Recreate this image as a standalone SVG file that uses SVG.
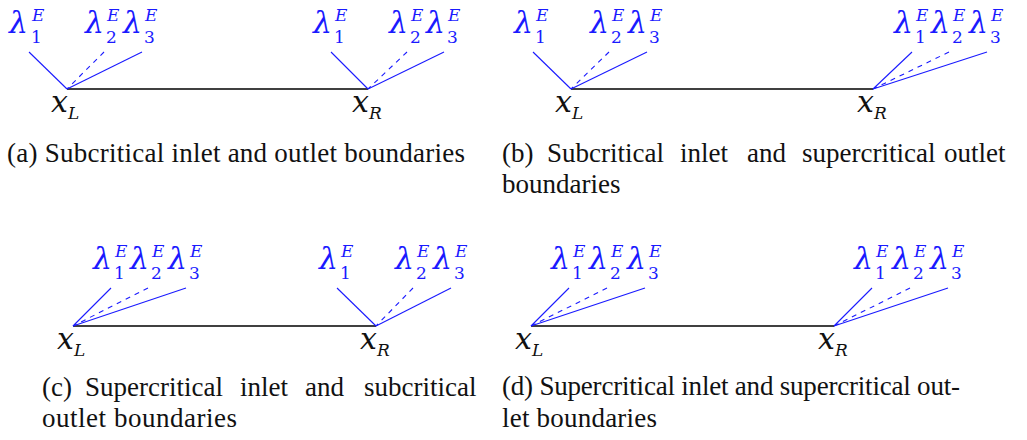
<svg xmlns="http://www.w3.org/2000/svg" width="1027" height="440" viewBox="0 0 1027 440">
<style>
.bg{fill:#fff}
.axis{stroke:#000;stroke-width:1.3;fill:none}
.ch{stroke:#1a1aff;stroke-width:1.1;fill:none}
.dash{stroke-dasharray:5 5}
.m{font-family:"DejaVu Serif",serif;font-style:italic;font-size:30px}
.lab{fill:#1a1aff}
.nd{fill:#111}
.sc{font-size:17px}
.up{font-style:normal}
.cap{font-family:"Liberation Serif",serif;font-size:27px;fill:#111}
</style>
<rect class="bg" x="0" y="0" width="1027" height="440"/>
<g id="connectors">
<line class="axis" x1="67" y1="89" x2="368" y2="89"/>
<line class="ch" x1="29" y1="52" x2="67" y2="89"/>
<line class="ch dash" x1="104" y1="52" x2="67" y2="89"/>
<line class="ch" x1="142" y1="52" x2="67" y2="89"/>
<line class="ch" x1="331" y1="52" x2="368" y2="89"/>
<line class="ch dash" x1="407" y1="52" x2="368" y2="89"/>
<line class="ch" x1="444" y1="52" x2="368" y2="89"/>
<line class="axis" x1="571" y1="89" x2="873" y2="89"/>
<line class="ch" x1="533" y1="52" x2="571" y2="89"/>
<line class="ch dash" x1="609" y1="52" x2="571" y2="89"/>
<line class="ch" x1="647" y1="52" x2="571" y2="89"/>
<line class="ch" x1="912" y1="52" x2="873" y2="89"/>
<line class="ch dash" x1="949" y1="52" x2="873" y2="89"/>
<line class="ch" x1="987" y1="52" x2="873" y2="89"/>
<line class="axis" x1="73" y1="326" x2="376" y2="326"/>
<line class="ch" x1="111" y1="288" x2="73" y2="326"/>
<line class="ch dash" x1="148" y1="288" x2="73" y2="326"/>
<line class="ch" x1="186" y1="288" x2="73" y2="326"/>
<line class="ch" x1="337" y1="288" x2="376" y2="326"/>
<line class="ch dash" x1="413" y1="288" x2="376" y2="326"/>
<line class="ch" x1="451" y1="288" x2="376" y2="326"/>
<line class="axis" x1="531" y1="326" x2="834" y2="326"/>
<line class="ch" x1="569" y1="288" x2="531" y2="326"/>
<line class="ch dash" x1="607" y1="288" x2="531" y2="326"/>
<line class="ch" x1="645" y1="288" x2="531" y2="326"/>
<line class="ch" x1="872" y1="288" x2="834" y2="326"/>
<line class="ch dash" x1="910" y1="288" x2="834" y2="326"/>
<line class="ch" x1="948" y1="288" x2="834" y2="326"/>
</g>
<g id="panel-a">
<g id="a-xL"><text class="m nd" x="51" y="112">x<tspan class="sc" x="68" y="119">L</tspan></text></g>
<g id="a-xR"><text class="m nd" x="352" y="112">x<tspan class="sc" x="369" y="119">R</tspan></text></g>
<g id="a-l1L"><text class="m lab" x="9" y="33">λ<tspan class="sc up" x="31" y="43">1</tspan><tspan class="sc" x="32" y="21">E</tspan></text></g>
<g id="a-l2L"><text class="m lab" x="85" y="33">λ<tspan class="sc up" x="106" y="43">2</tspan><tspan class="sc" x="107" y="21">E</tspan></text></g>
<g id="a-l3L"><text class="m lab" x="123" y="33">λ<tspan class="sc up" x="144" y="43">3</tspan><tspan class="sc" x="145" y="21">E</tspan></text></g>
<g id="a-l1R"><text class="m lab" x="313" y="33">λ<tspan class="sc up" x="334" y="43">1</tspan><tspan class="sc" x="335" y="21">E</tspan></text></g>
<g id="a-l2R"><text class="m lab" x="389" y="33">λ<tspan class="sc up" x="410" y="43">2</tspan><tspan class="sc" x="411" y="21">E</tspan></text></g>
<g id="a-l3R"><text class="m lab" x="426" y="33">λ<tspan class="sc up" x="447" y="43">3</tspan><tspan class="sc" x="448" y="21">E</tspan></text></g>
<g id="a-cap"><text class="cap" x="7" y="162" textLength="458" lengthAdjust="spacing">(a) Subcritical inlet and outlet boundaries</text></g>
</g>
<g id="panel-b">
<g id="b-xL"><text class="m nd" x="555" y="112">x<tspan class="sc" x="572" y="119">L</tspan></text></g>
<g id="b-xR"><text class="m nd" x="857" y="112">x<tspan class="sc" x="874" y="119">R</tspan></text></g>
<g id="b-l1L"><text class="m lab" x="514" y="33">λ<tspan class="sc up" x="535" y="43">1</tspan><tspan class="sc" x="536" y="21">E</tspan></text></g>
<g id="b-l2L"><text class="m lab" x="590" y="33">λ<tspan class="sc up" x="611" y="43">2</tspan><tspan class="sc" x="612" y="21">E</tspan></text></g>
<g id="b-l3L"><text class="m lab" x="628" y="33">λ<tspan class="sc up" x="649" y="43">3</tspan><tspan class="sc" x="650" y="21">E</tspan></text></g>
<g id="b-l1R"><text class="m lab" x="894" y="33">λ<tspan class="sc up" x="915" y="43">1</tspan><tspan class="sc" x="916" y="21">E</tspan></text></g>
<g id="b-l2R"><text class="m lab" x="931" y="33">λ<tspan class="sc up" x="952" y="43">2</tspan><tspan class="sc" x="953" y="21">E</tspan></text></g>
<g id="b-l3R"><text class="m lab" x="969" y="33">λ<tspan class="sc up" x="990" y="43">3</tspan><tspan class="sc" x="991" y="21">E</tspan></text></g>
<g id="b-cap"><text class="cap" y="162"><tspan x="502">(b)</tspan><tspan x="547">Subcritical</tspan><tspan x="680">inlet</tspan><tspan x="747">and</tspan><tspan x="802">supercritical</tspan><tspan x="944">outlet</tspan><tspan x="502" y="193">boundaries</tspan></text></g>
</g>
<g id="panel-c">
<g id="c-xL"><text class="m nd" x="57" y="349">x<tspan class="sc" x="74" y="356">L</tspan></text></g>
<g id="c-xR"><text class="m nd" x="360" y="349">x<tspan class="sc" x="377" y="356">R</tspan></text></g>
<g id="c-l1L"><text class="m lab" x="93" y="269">λ<tspan class="sc up" x="114" y="279">1</tspan><tspan class="sc" x="115" y="257">E</tspan></text></g>
<g id="c-l2L"><text class="m lab" x="130" y="269">λ<tspan class="sc up" x="151" y="279">2</tspan><tspan class="sc" x="152" y="257">E</tspan></text></g>
<g id="c-l3L"><text class="m lab" x="168" y="269">λ<tspan class="sc up" x="189" y="279">3</tspan><tspan class="sc" x="190" y="257">E</tspan></text></g>
<g id="c-l1R"><text class="m lab" x="319" y="269">λ<tspan class="sc up" x="340" y="279">1</tspan><tspan class="sc" x="341" y="257">E</tspan></text></g>
<g id="c-l2R"><text class="m lab" x="395" y="269">λ<tspan class="sc up" x="416" y="279">2</tspan><tspan class="sc" x="417" y="257">E</tspan></text></g>
<g id="c-l3R"><text class="m lab" x="433" y="269">λ<tspan class="sc up" x="454" y="279">3</tspan><tspan class="sc" x="455" y="257">E</tspan></text></g>
<g id="c-cap"><text class="cap" y="396"><tspan x="42">(c)</tspan><tspan x="85">Supercritical</tspan><tspan x="240">inlet</tspan><tspan x="305">and</tspan><tspan x="364">subcritical</tspan></text><text class="cap" x="42" y="427" textLength="195" lengthAdjust="spacing">outlet boundaries</text></g>
</g>
<g id="panel-d">
<g id="d-xL"><text class="m nd" x="515" y="349">x<tspan class="sc" x="532" y="356">L</tspan></text></g>
<g id="d-xR"><text class="m nd" x="818" y="349">x<tspan class="sc" x="835" y="356">R</tspan></text></g>
<g id="d-l1L"><text class="m lab" x="551" y="269">λ<tspan class="sc up" x="572" y="279">1</tspan><tspan class="sc" x="573" y="257">E</tspan></text></g>
<g id="d-l2L"><text class="m lab" x="589" y="269">λ<tspan class="sc up" x="610" y="279">2</tspan><tspan class="sc" x="611" y="257">E</tspan></text></g>
<g id="d-l3L"><text class="m lab" x="627" y="269">λ<tspan class="sc up" x="648" y="279">3</tspan><tspan class="sc" x="649" y="257">E</tspan></text></g>
<g id="d-l1R"><text class="m lab" x="854" y="269">λ<tspan class="sc up" x="875" y="279">1</tspan><tspan class="sc" x="876" y="257">E</tspan></text></g>
<g id="d-l2R"><text class="m lab" x="892" y="269">λ<tspan class="sc up" x="913" y="279">2</tspan><tspan class="sc" x="914" y="257">E</tspan></text></g>
<g id="d-l3R"><text class="m lab" x="930" y="269">λ<tspan class="sc up" x="951" y="279">3</tspan><tspan class="sc" x="952" y="257">E</tspan></text></g>
<g id="d-cap"><text class="cap" x="502" y="395" textLength="458" lengthAdjust="spacing">(d) Supercritical inlet and supercritical out-</text><text class="cap" x="502" y="427" textLength="155" lengthAdjust="spacing">let boundaries</text></g>
</g>
</svg>
